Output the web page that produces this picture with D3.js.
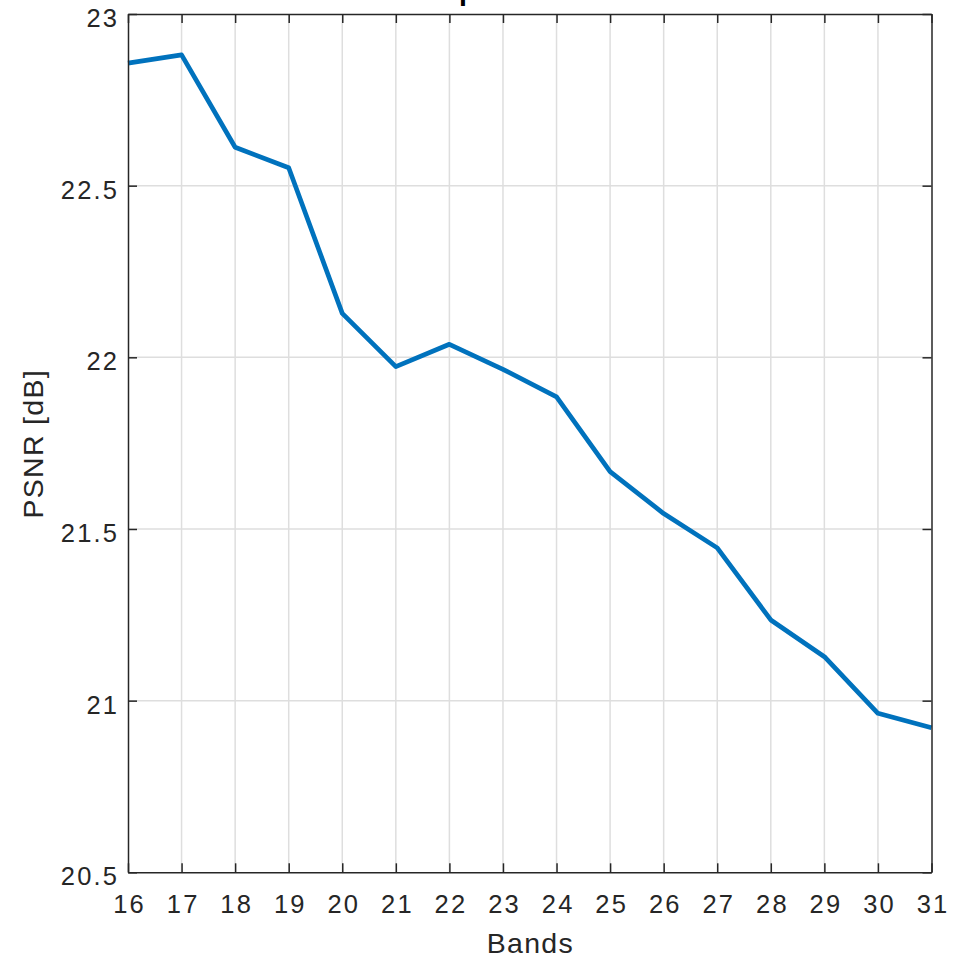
<!DOCTYPE html>
<html>
<head>
<meta charset="utf-8">
<script src="https://cdn.jsdelivr.net/npm/d3@7"></script>
<style>
  html, body { margin: 0; padding: 0; background: #fff; }
  svg { display: block; }
  text { font-family: "Liberation Sans", Arial, Helvetica, sans-serif; }
</style>
</head>
<body>
<svg id="chart" width="960" height="959"></svg>
<script>
// ---- data ----
const bands = [16, 17, 18, 19, 20, 21, 22, 23, 24, 25, 26, 27, 28, 29, 30, 31];
const psnr = [22.857, 22.881, 22.612, 22.552, 22.128, 21.973, 22.038, 21.965,
              21.885, 21.667, 21.545, 21.445, 21.235, 21.128, 20.963, 20.921];
const xTicks = [16, 17, 18, 19, 20, 21, 22, 23, 24, 25, 26, 27, 28, 29, 30, 31];
const yTicks = [20.5, 21, 21.5, 22, 22.5, 23];
const yTickLabels = ["20.5", "21", "21.5", "22", "22.5", "23"];
const titleText = "Output of all bands";
const xLabel = "Bands";
const yLabel = "PSNR [dB]";

// ---- layout ----
const mLeft = 128, mRight = 931.5, mTop = 14, mBottom = 872.3;
const axisColor = "#262626";
const gridColor = "#dedede";
const lineColor = "#0072BD";
const tickLen = 9;
const tickFont = 25.5, tickLS = 2.2;
const labelFont = 28.5, labelLS = 1.3;

const svg = d3.select("#chart");
const x = d3.scaleLinear().domain([16, 31]).range([mLeft, mRight]);
const y = d3.scaleLinear().domain([20.5, 23]).range([mBottom, mTop]);

// grid
const g = svg.append("g");
g.selectAll("line.vgrid").data(xTicks.slice(1, -1)).enter().append("line")
  .attr("x1", d => x(d)).attr("x2", d => x(d))
  .attr("y1", mTop).attr("y2", mBottom)
  .attr("stroke", gridColor).attr("stroke-width", 1.5);
g.selectAll("line.hgrid").data(yTicks.slice(1, -1)).enter().append("line")
  .attr("x1", mLeft).attr("x2", mRight)
  .attr("y1", d => y(d)).attr("y2", d => y(d))
  .attr("stroke", gridColor).attr("stroke-width", 1.5);

// data line
const line = d3.line().x((d, i) => x(bands[i])).y(d => y(d));
svg.append("path").datum(psnr)
  .attr("d", line)
  .attr("fill", "none")
  .attr("stroke", lineColor)
  .attr("stroke-width", 4.7)
  .attr("stroke-linejoin", "round");

// axes (ticks inward)
const fmtY = d => yTickLabels[yTicks.indexOf(d)];
const xAxisB = d3.axisBottom(x).tickValues(xTicks).tickSizeInner(-tickLen).tickSizeOuter(0).tickFormat(d3.format("d"));
const xAxisT = d3.axisTop(x).tickValues(xTicks).tickSizeInner(-tickLen).tickSizeOuter(0).tickFormat("");
const yAxisL = d3.axisLeft(y).tickValues(yTicks).tickSizeInner(-tickLen).tickSizeOuter(0).tickFormat(fmtY);
const yAxisR = d3.axisRight(y).tickValues(yTicks).tickSizeInner(-tickLen).tickSizeOuter(0).tickFormat("");

function style(sel) {
  sel.selectAll("path.domain").attr("stroke", axisColor).attr("stroke-width", 1.5);
  sel.selectAll(".tick line").attr("stroke", axisColor).attr("stroke-width", 1.5);
  sel.selectAll(".tick text").attr("fill", axisColor).attr("font-size", tickFont)
    .attr("letter-spacing", tickLS)
    .attr("font-family", "'Liberation Sans', Arial, Helvetica, sans-serif");
}
const gb = svg.append("g").attr("transform", `translate(0,${mBottom})`).call(xAxisB);
style(gb);
gb.selectAll(".tick text").attr("dy", null).attr("y", 41).attr("x", tickLS / 2);
const gt = svg.append("g").attr("transform", `translate(0,${mTop})`).call(xAxisT);
style(gt);
const gl = svg.append("g").attr("transform", `translate(${mLeft},0)`).call(yAxisL);
style(gl);
gl.selectAll(".tick text").attr("dy", null).attr("y", 12.5).attr("x", -11 + tickLS);
const gr = svg.append("g").attr("transform", `translate(${mRight},0)`).call(yAxisR);
style(gr);

// labels
svg.append("text")
  .attr("x", (mLeft + mRight) / 2 + labelLS / 2).attr("y", 953)
  .attr("text-anchor", "middle").attr("font-size", labelFont).attr("fill", axisColor)
  .attr("letter-spacing", labelLS)
  .text(xLabel);
svg.append("text")
  .attr("transform", `translate(43.4,${(mTop + mBottom) / 2 + labelLS / 2}) rotate(-90)`)
  .attr("text-anchor", "middle").attr("font-size", labelFont).attr("fill", axisColor)
  .attr("letter-spacing", labelLS)
  .text(yLabel);
svg.append("text")
  .attr("x", (mLeft + mRight) / 2 + 10).attr("y", 0)
  .attr("text-anchor", "middle").attr("font-size", labelFont).attr("font-weight", "bold")
  .attr("fill", "#000")
  .text(titleText);
</script>
</body>
</html>
